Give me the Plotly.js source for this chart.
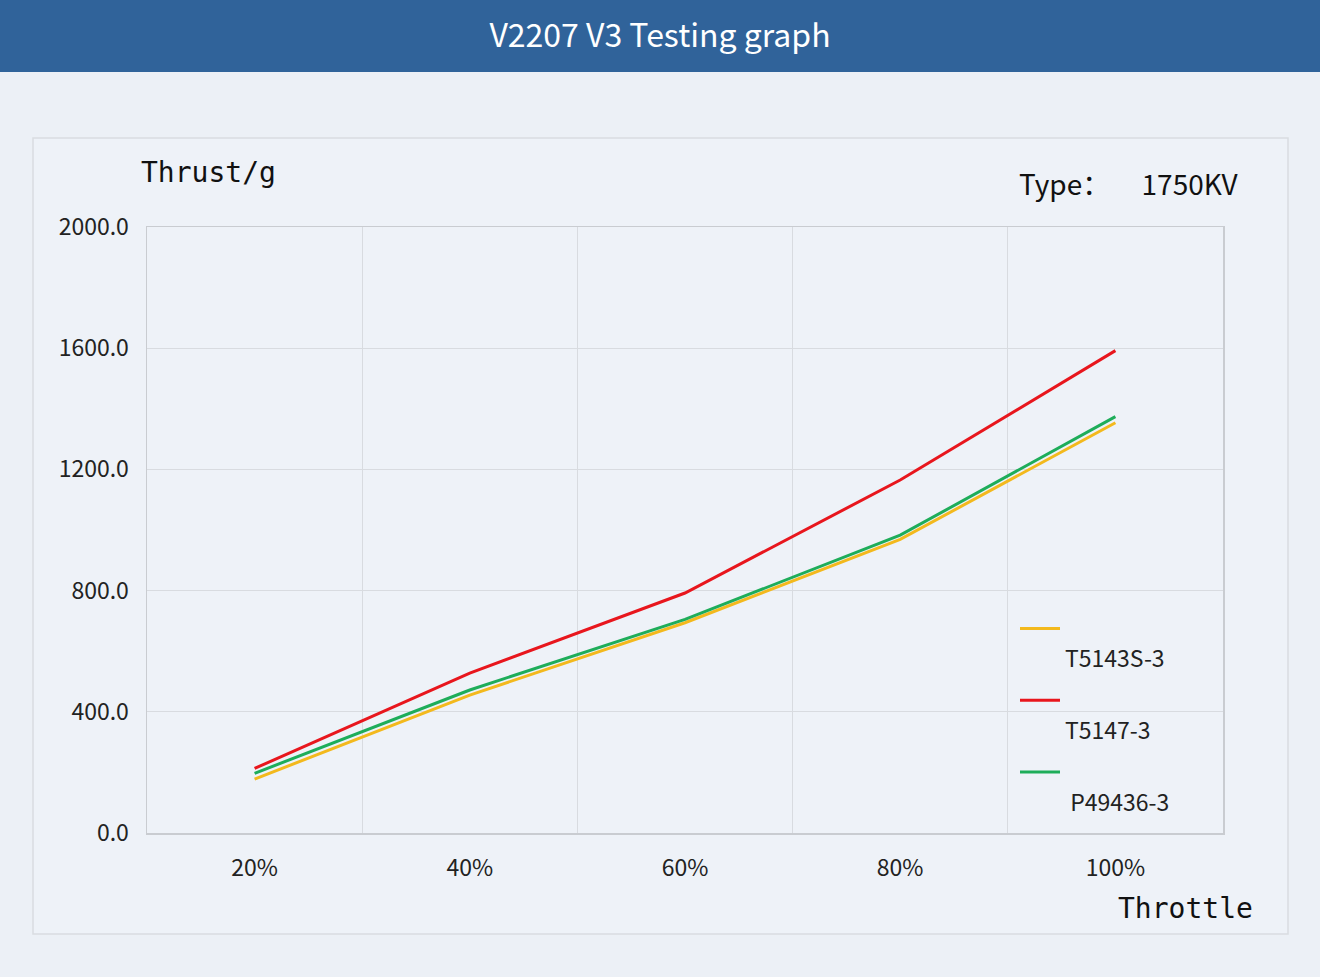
<!DOCTYPE html>
<html>
<head>
<meta charset="utf-8">
<script src="https://cdn.plot.ly/plotly-3.0.1.min.js"></script>
<style>html,body{margin:0;padding:0;background:#ecf0f6;}#chart{width:1320px;height:977px;}</style>
</head>
<body>
<div id="chart"></div>
<script>
// ---- data ----
const throttle = ['20%', '40%', '60%', '80%', '100%'];
const seriesNames = ['T5143S-3', 'T5147-3', 'P49436-3'];
const t5143s = [178, 455, 694, 969, 1354];
const t5147 = [213, 528, 792, 1165, 1592];
const p49436 = [197, 472, 705, 983, 1374];
const yTicks = [0, 400, 800, 1200, 1600, 2000];

// ---- layout helpers (pixel -> paper) ----
const W = 1320, H = 977, L = 147, R = 1223, T = 227, B = 833;
const px = x => (x - L) / (R - L);
const py = y => (B - y) / (B - T);

const colors = ['#f3b91d', '#e8161d', '#1ead5a'];
const serieses = [t5143s, t5147, p49436];
const traces = serieses.map((vals, i) => ({
  type: 'scatter', mode: 'lines', x: throttle, y: vals,
  name: '\u00a0<br>' + (i === 2 ? '\u00a0' : '') + seriesNames[i],
  legendgroup: 'g' + i,
  line: {color: colors[i], width: 3}
}));

const monoFont = {family: 'DejaVu Sans Mono, Liberation Mono, monospace', size: 28, color: '#111'};
const cjk = 'Noto Sans CJK SC, Noto Sans, sans-serif';

const layout = {
  width: W, height: H,
  margin: {l: L, r: W - R, t: T, b: H - B, pad: 0},
  paper_bgcolor: '#ecf0f6',
  plot_bgcolor: 'rgba(0,0,0,0)',
  showlegend: true,
  title: {
    text: 'V2207 V3 Testing graph',
    font: {family: cjk, size: 32, color: '#ffffff'},
    x: 0.5, xanchor: 'center', xref: 'container',
    y: 1 - 36 / H, yanchor: 'middle', yref: 'container'
  },
  xaxis: {
    type: 'category', range: [-0.5, 4.5], tickson: 'boundaries',
    showgrid: true, gridcolor: '#d8dbe0', gridwidth: 1,
    showline: true, mirror: true, linecolor: '#c9ccd1', linewidth: 1.5,
    ticks: '', zeroline: false, ticklabelstandoff: 14,
    tickfont: {family: cjk, size: 23, color: '#222'},
    fixedrange: true
  },
  yaxis: {
    range: [0, 2000], tickvals: yTicks, tickformat: '.1f',
    showgrid: true, gridcolor: '#d8dbe0', gridwidth: 1,
    showline: true, mirror: true, linecolor: '#c9ccd1', linewidth: 1.5,
    ticks: '', zeroline: false, ticklabelstandoff: 12,
    tickfont: {family: cjk, size: 23, color: '#222'},
    fixedrange: true
  },
  legend: {
    x: px(1015), y: py(607), xanchor: 'left', yanchor: 'top',
    bgcolor: 'rgba(0,0,0,0)', borderwidth: 0, itemwidth: 40,
    valign: 'top', traceorder: 'grouped', tracegroupgap: 9,
    font: {family: cjk, size: 23, color: '#222'}
  },
  shapes: [
    {type: 'rect', xref: 'paper', yref: 'paper', layer: 'below',
     x0: px(0), x1: px(W), y0: py(72), y1: py(0), fillcolor: '#30639a', line: {width: 0}},
    {type: 'rect', xref: 'paper', yref: 'paper', layer: 'below',
     x0: px(33), x1: px(1288), y0: py(934), y1: py(138), fillcolor: '#eef2f8', line: {color: '#d9dce1', width: 1.5}}
  ],
  annotations: [
    {text: 'Thrust/g', xref: 'paper', yref: 'paper', x: px(139), y: py(173),
     xanchor: 'left', yanchor: 'middle', showarrow: false, font: monoFont},
    {text: 'Throttle', xref: 'paper', yref: 'paper', x: px(1116), y: py(908),
     xanchor: 'left', yanchor: 'middle', showarrow: false, font: monoFont},
    {text: 'Type：\u00a0\u00a0\u00a0\u00a0 1750KV', xref: 'paper', yref: 'paper', x: px(1240), y: py(183),
     xanchor: 'right', yanchor: 'middle', showarrow: false,
     font: {family: cjk, size: 28, color: '#111'}}
  ]
};

Plotly.newPlot('chart', traces, layout, {displayModeBar: false, staticPlot: true});
</script>
</body>
</html>
